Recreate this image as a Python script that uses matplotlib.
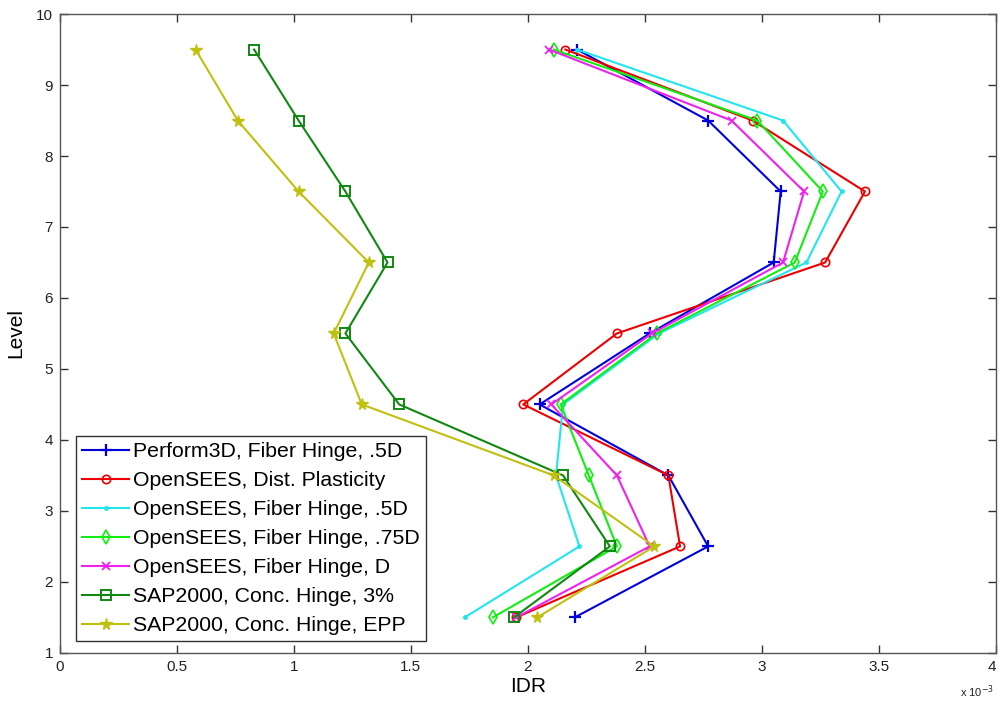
import numpy as np
import matplotlib.pyplot as plt
from matplotlib.ticker import FuncFormatter

plt.rcParams['font.family'] = ['Liberation Sans', 'DejaVu Sans']

# ================================
# DATA (inter-story drift ratio per level, x 10^-3)
# ================================
levels = [1.5, 2.5, 3.5, 4.5, 5.5, 6.5, 7.5, 8.5, 9.5]

perform3d_fiber_05d = [2.20, 2.77, 2.60, 2.05, 2.52, 3.05, 3.08, 2.77, 2.21]
opensees_dist_plast = [1.95, 2.65, 2.60, 1.98, 2.38, 3.27, 3.44, 2.96, 2.16]
opensees_fiber_05d  = [1.73, 2.22, 2.12, 2.15, 2.56, 3.19, 3.34, 3.09, 2.21]
opensees_fiber_075d = [1.85, 2.38, 2.26, 2.14, 2.55, 3.14, 3.26, 2.98, 2.11]
opensees_fiber_d    = [1.95, 2.52, 2.38, 2.10, 2.53, 3.09, 3.18, 2.87, 2.09]
sap_conc_3pct       = [1.94, 2.35, 2.15, 1.45, 1.22, 1.40, 1.22, 1.02, 0.83]
sap_conc_epp        = [2.04, 2.54, 2.11, 1.29, 1.17, 1.32, 1.02, 0.76, 0.58]

labels = [
    "Perform3D, Fiber Hinge, .5D",
    "OpenSEES, Dist. Plasticity",
    "OpenSEES, Fiber Hinge, .5D",
    "OpenSEES, Fiber Hinge, .75D",
    "OpenSEES, Fiber Hinge, D",
    "SAP2000, Conc. Hinge, 3%",
    "SAP2000, Conc. Hinge, EPP",
]

series = [perform3d_fiber_05d, opensees_dist_plast, opensees_fiber_05d,
          opensees_fiber_075d, opensees_fiber_d, sap_conc_3pct, sap_conc_epp]

styles = [
    dict(color='#0000dd', marker='+', ms=9, mew=1.6),
    dict(color='#ee0000', marker='o', ms=6, mfc='none', mew=1.2),
    dict(color='#22e6ee', marker='.', ms=5),
    dict(color='#11ee11', marker='d', ms=7, mfc='none', mew=1.2),
    dict(color='#ee22ee', marker='x', ms=6, mew=1.3),
    dict(color='#118811', marker='s', ms=6.5, mfc='none', mew=1.4),
    dict(color='#c0c010', marker='*', ms=8.5),
]

# ================================
# PLOT
# ================================
fig = plt.figure(figsize=(9.98, 7.02), dpi=100)
ax = fig.add_axes([0.060, 0.070, 0.938, 0.910])

for vals, lab, st in zip(series, labels, styles):
    ax.plot(np.array(vals) * 1e-3, levels, lw=1.5, label=lab, **st)

ax.set_xlim(0, 4e-3)
ax.set_ylim(1, 10)
ax.set_xticks(np.arange(0, 4.01, 0.5) * 1e-3)
ax.set_yticks(np.arange(1, 11, 1))
ax.xaxis.set_major_formatter(FuncFormatter(lambda v, p: "%g" % round(v * 1e3, 3)))
ax.text(0.998, -0.048, r"x 10$^{-3}$", transform=ax.transAxes, ha='right',
        va='top', fontsize=8, color='#222222')

ax.tick_params(direction='in', length=6, width=1, top=True, right=True,
               labelsize=11, colors='#333333', labelcolor='#222222', pad=5)
for sp in ax.spines.values():
    sp.set_color('#555555')
    sp.set_linewidth(1.0)

fig.canvas.draw()
ax.get_xticklabels()[-1].set_horizontalalignment('right')

ax.set_xlabel("IDR", fontsize=15, labelpad=2)
ax.set_ylabel("Level", fontsize=15, labelpad=8)

leg = ax.legend(loc='lower left', bbox_to_anchor=(0.017, 0.018), fontsize=15.3,
                frameon=True, fancybox=False, framealpha=1, edgecolor='#333333',
                handlelength=2.2, handletextpad=0.2, labelspacing=0.47,
                borderpad=0.3, borderaxespad=0)
leg.get_frame().set_linewidth(1.0)

fig.savefig("out.png", dpi=100)
